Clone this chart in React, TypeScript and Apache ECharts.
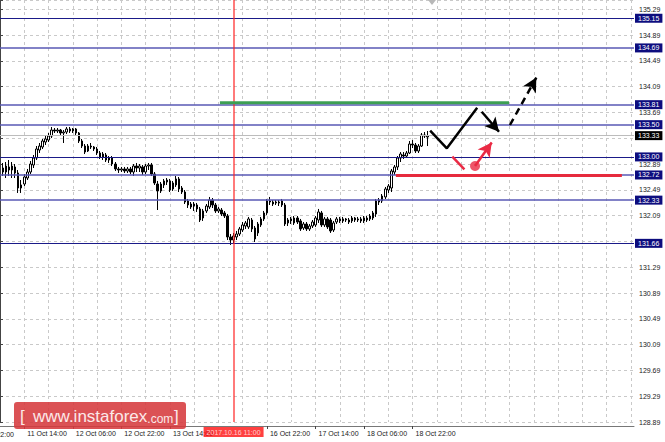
import React, { useEffect, useRef } from 'react';
import * as echarts from 'echarts';

// ---- time axis (hourly bars, weekend skipped) ----
const sessionDays: [string, number, number][] = [
  ['11 Oct', 6, 23], ['12 Oct', 0, 23], ['13 Oct', 0, 23],
  ['16 Oct', 0, 23], ['17 Oct', 0, 23], ['18 Oct', 0, 23], ['19 Oct', 0, 23],
  ['20 Oct', 0, 23], ['23 Oct', 0, 23],
];
const categories: string[] = [];
sessionDays.forEach(([d, a, b]) => {
  for (let h = a; h <= b; h++) categories.push(`${d} ${String(h).padStart(2, '0')}:00`);
});
const firstCandle = '11 Oct 07:00';
const timeTickLabels = ['11 Oct 14:00', '12 Oct 06:00', '12 Oct 22:00', '13 Oct 14:00',
  '16 Oct 22:00', '17 Oct 14:00', '18 Oct 06:00', '18 Oct 22:00'];
const cutTimeLabel = '10 Oct 22:00';
const markedTime = '16 Oct 11:00';
const markedTimeLabel = '2017.10.16 11:00';

// ---- OHLC (H1) ----
const opens = [
  132.828, 132.766, 132.844, 132.797, 132.844, 132.751, 132.518, 132.580, 132.673, 132.766,
  132.875, 132.983, 133.107, 133.154, 133.231, 133.262, 133.324, 133.417, 133.402, 133.417,
  133.371, 133.386, 133.433, 133.402, 133.433, 133.371, 133.247, 133.169, 133.092, 133.169,
  133.154, 133.123, 133.061, 132.999, 133.030, 132.952, 132.983, 132.890, 132.813, 132.797,
  132.813, 132.782, 132.813, 132.766, 132.859, 132.828, 132.844, 132.766, 132.859, 132.875,
  132.735, 132.580, 132.472, 132.565, 132.611, 132.627, 132.503, 132.565, 132.658, 132.518,
  132.456, 132.317, 132.270, 132.239, 132.255, 132.193, 132.053, 132.162, 132.224, 132.332,
  132.255, 132.162, 132.177, 132.131, 132.084, 131.759, 131.712, 131.759, 131.805, 131.867,
  131.929, 131.914, 132.022, 131.898, 131.821, 131.945, 132.038, 132.131, 132.301, 132.301,
  132.286, 132.301, 132.317, 132.255, 131.976, 132.007, 131.976, 132.053, 132.007, 131.898,
  131.960, 131.883, 131.929, 131.945, 132.022, 132.131, 131.945, 132.038, 132.022, 131.867,
  131.991, 132.038, 132.007, 132.038, 132.022, 132.007, 132.053, 132.022, 132.038, 132.007,
  132.053, 132.038, 132.053, 132.115, 132.301, 132.317, 132.379, 132.487, 132.518, 132.766,
  132.844, 132.983, 133.030, 133.014, 133.061, 133.200, 133.185, 133.092, 133.169, 133.324,
  133.309,
];
const closes = [
  132.766, 132.859, 132.797, 132.859, 132.751, 132.518, 132.565, 132.689, 132.766, 132.890,
  132.983, 133.123, 133.169, 133.247, 133.278, 133.324, 133.417, 133.402, 133.417, 133.371,
  133.386, 133.433, 133.402, 133.433, 133.371, 133.247, 133.169, 133.076, 133.169, 133.154,
  133.123, 133.061, 132.999, 133.045, 132.952, 132.983, 132.890, 132.813, 132.797, 132.813,
  132.782, 132.813, 132.766, 132.859, 132.828, 132.859, 132.766, 132.859, 132.875, 132.735,
  132.596, 132.472, 132.580, 132.627, 132.642, 132.487, 132.596, 132.658, 132.503, 132.456,
  132.301, 132.255, 132.224, 132.270, 132.193, 132.022, 132.162, 132.239, 132.332, 132.255,
  132.162, 132.193, 132.115, 132.084, 131.759, 131.712, 131.774, 131.805, 131.883, 131.945,
  131.976, 132.038, 131.883, 131.728, 131.960, 132.038, 132.131, 132.317, 132.317, 132.270,
  132.301, 132.286, 132.255, 131.960, 132.022, 132.038, 132.053, 131.991, 131.883, 131.960,
  131.883, 131.929, 131.991, 132.053, 132.146, 131.945, 132.038, 131.914, 131.852, 131.976,
  132.038, 132.007, 132.038, 132.022, 131.991, 132.053, 132.022, 132.038, 132.007, 132.053,
  132.022, 132.084, 132.131, 132.317, 132.332, 132.394, 132.503, 132.549, 132.782, 132.844,
  132.983, 133.045, 133.014, 133.061, 133.200, 133.185, 133.092, 133.169, 133.340, 133.340,
  133.324,
];
const highs = [
  132.906, 132.921, 132.952, 132.921, 132.890, 132.797, 132.642, 132.735, 132.813, 132.937,
  133.030, 133.169, 133.216, 133.278, 133.324, 133.371, 133.464, 133.448, 133.448, 133.433,
  133.417, 133.464, 133.464, 133.448, 133.448, 133.386, 133.278, 133.200, 133.200, 133.216,
  133.169, 133.154, 133.092, 133.076, 133.061, 133.014, 133.014, 132.921, 132.844, 132.844,
  132.844, 132.844, 132.844, 132.890, 132.906, 132.890, 132.875, 132.890, 132.906, 132.906,
  132.766, 132.627, 132.611, 132.658, 132.673, 132.658, 132.627, 132.704, 132.689, 132.549,
  132.487, 132.348, 132.301, 132.301, 132.286, 132.224, 132.193, 132.270, 132.379, 132.363,
  132.286, 132.224, 132.208, 132.162, 132.115, 131.805, 131.821, 131.852, 131.914, 131.991,
  132.007, 132.069, 132.053, 131.929, 131.991, 132.069, 132.162, 132.348, 132.379, 132.332,
  132.332, 132.332, 132.348, 132.286, 132.053, 132.069, 132.084, 132.084, 132.038, 131.991,
  131.991, 131.960, 132.022, 132.084, 132.193, 132.162, 132.069, 132.069, 132.053, 132.007,
  132.069, 132.069, 132.069, 132.053, 132.053, 132.084, 132.069, 132.069, 132.069, 132.084,
  132.084, 132.115, 132.162, 132.348, 132.363, 132.425, 132.534, 132.580, 132.813, 132.875,
  133.014, 133.076, 133.076, 133.092, 133.247, 133.262, 133.216, 133.200, 133.371, 133.386,
  133.402,
];
const lows = [
  132.704, 132.673, 132.704, 132.673, 132.673, 132.441, 132.441, 132.549, 132.642, 132.735,
  132.828, 132.952, 133.061, 133.123, 133.185, 133.231, 133.293, 133.371, 133.371, 133.340,
  133.216, 133.355, 133.371, 133.371, 133.340, 133.216, 133.138, 133.045, 133.076, 133.123,
  133.092, 133.030, 132.968, 132.952, 132.921, 132.906, 132.859, 132.782, 132.751, 132.766,
  132.751, 132.751, 132.735, 132.704, 132.766, 132.766, 132.720, 132.735, 132.797, 132.704,
  132.565, 132.177, 132.441, 132.518, 132.565, 132.456, 132.472, 132.534, 132.456, 132.425,
  132.270, 132.208, 132.193, 132.162, 132.146, 131.991, 132.007, 132.131, 132.193, 132.208,
  132.131, 132.131, 132.084, 132.053, 131.712, 131.635, 131.666, 131.712, 131.774, 131.836,
  131.883, 131.883, 131.836, 131.681, 131.774, 131.914, 132.007, 132.100, 132.255, 132.239,
  132.255, 132.239, 132.224, 131.929, 131.929, 131.960, 131.945, 131.960, 131.852, 131.867,
  131.852, 131.852, 131.898, 131.914, 131.976, 131.914, 131.914, 131.883, 131.821, 131.836,
  131.960, 131.976, 131.976, 131.991, 131.960, 131.976, 131.991, 131.991, 131.976, 131.976,
  131.991, 132.007, 132.022, 132.069, 132.255, 132.286, 132.348, 132.441, 132.456, 132.720,
  132.797, 132.921, 132.968, 132.983, 133.045, 133.138, 133.061, 133.061, 133.154, 133.293,
  133.169,
];

// ---- price axis ----
const priceTickStart = 128.89;
const priceTickStep = 0.4;
const priceMax = 135.433;
const hiddenPriceTicks = ['133.29', '131.69'];
const levels = [135.15, 134.69, 133.81, 133.5, 133.0, 132.72, 132.33, 131.66];
const softLevels = [134.69, 133.81, 133.5, 132.72, 132.33];
const currentPrice = 133.33;

// ---- forecast drawings (x in bar index units, y in price) ----
const greenLine: [number, number][] = [[72.5, 133.84], [167.8, 133.84]];
const redLine: [number, number][] = [[130.5, 132.71], [205.0, 132.71]];
const blackPath: [number, number][] = [[141.8, 133.406], [147.3, 133.133], [157.3, 133.763]];
const blackArrow: [number, number][] = [[158.8, 133.701], [164.5, 133.39]];
const dashedArrow: [number, number][] = [[168.1, 133.495], [176.8, 134.23]];
const redTick: [number, number][] = [[149.1, 133.003], [153.1, 132.808]];
const redDot: [number, number] = [156.6, 132.859];
const redArrow: [number, number][] = [[156.6, 132.859], [162.1, 133.225]];

const FONT = 'Liberation Sans';

export default function App() {
  const ref = useRef<HTMLDivElement>(null);
  useEffect(() => {
    const chart = echarts.init(ref.current!, null, { renderer: 'svg' });
    const start = categories.indexOf(firstCandle);
    const candleData = categories.slice(0, start + opens.length).map((c, j) =>
      j < start ? '-' : [opens[j - start], closes[j - start], lows[j - start], highs[j - start]]);
    const showTime = (_: number, v: string) => timeTickLabels.includes(v);

    const levelLabel = (bg: string, v: number) => ({
      show: true, position: 'end', distance: 1, formatter: v.toFixed(2),
      backgroundColor: bg, color: '#fff', fontSize: 7, fontFamily: FONT,
      padding: [1, 3, 1, 3], lineHeight: 7,
    });

    const arrowSeries = (pts: [number, number][], color: string, type: any) => ({
      type: 'line', xAxisIndex: 1, yAxisIndex: 0, data: [], silent: true, z: 6,
      markLine: {
        silent: true, animation: false, symbol: ['none', 'arrow'], symbolSize: [11, 14],
        lineStyle: { color, width: 2.5, type },
        label: { show: false },
        data: [[{ coord: pts[0] }, { coord: pts[1] }]],
      },
    });

    chart.setOption({
      animation: false,
      backgroundColor: '#ffffff',
      grid: { left: 0, right: 31, top: 0, bottom: 20 },
      xAxis: [
        {
          type: 'category', data: categories, boundaryGap: false, offset: 4,
          axisLine: { show: true, lineStyle: { color: '#777', width: 1 } },
          axisTick: { show: true, length: 3, interval: showTime, lineStyle: { color: '#444' } },
          axisLabel: {
            show: true, interval: showTime, align: 'left', margin: 4, padding: [0, 0, 0, 3],
            fontSize: 7, color: '#222', fontFamily: FONT,
          },
          splitLine: { show: true, interval: (j: number) => j % 8 === 0, lineStyle: { color: '#c9c9c9', type: [3, 3], width: 1 } },
        },
        { type: 'value', min: 0, max: categories.length - 1, show: false },
      ],
      yAxis: [
        {
          type: 'value', position: 'right', min: priceTickStart, max: priceMax, interval: priceTickStep,
          axisLine: { show: true, lineStyle: { color: '#444', width: 1 } },
          axisTick: { show: true, length: 3, lineStyle: { color: '#444' } },
          axisLabel: {
            fontSize: 7, color: '#222', margin: 5, fontFamily: FONT,
            formatter: (v: number) => {
              const k = (v - priceTickStart) / priceTickStep;
              const s = v.toFixed(2);
              if (Math.abs(k - Math.round(k)) > 0.01) return '';
              return hiddenPriceTicks.includes(s) ? '' : s;
            },
          },
          splitLine: { show: true, lineStyle: { color: '#c9c9c9', type: [3, 3], width: 1 } },
        },
      ],
      series: [
        {
          type: 'candlestick', xAxisIndex: 0, yAxisIndex: 0, data: candleData, barWidth: 2,
          itemStyle: { color: '#ffffff', color0: '#000000', borderColor: '#000000', borderColor0: '#000000', borderWidth: 1 },
          markLine: {
            silent: true, animation: false, symbol: ['none', 'none'],
            data: [
              ...levels.map(v => ({
                yAxis: v,
                lineStyle: softLevels.includes(v)
                  ? { color: '#5858b4', width: 1.6, type: 'solid' }
                  : { color: '#1a1a88', width: 1, type: 'solid' },
                label: levelLabel('#0d0d7e', v),
              })),
              { yAxis: currentPrice, lineStyle: { color: '#bcbcbc', width: 1, type: 'solid' }, label: levelLabel('#000000', currentPrice) },
              {
                xAxis: markedTime,
                lineStyle: { color: '#ff2020', width: 1.6, type: 'solid', opacity: 0.75 },
                label: {
                  show: true, position: 'start', distance: 5, formatter: markedTimeLabel,
                  backgroundColor: '#ff0000', color: '#fff', fontSize: 7, fontFamily: FONT, padding: [2, 3, 1, 3],
                },
              },
            ],
          },
        },
        { type: 'line', xAxisIndex: 1, yAxisIndex: 0, z: 6, data: greenLine, symbol: 'none', silent: true, lineStyle: { color: '#3d9f53', width: 3 } },
        { type: 'line', xAxisIndex: 1, yAxisIndex: 0, z: 6, data: redLine, symbol: 'none', silent: true, lineStyle: { color: '#e62a3d', width: 3 } },
        { type: 'line', xAxisIndex: 1, yAxisIndex: 0, z: 6, data: blackPath, symbol: 'none', silent: true, lineStyle: { color: '#000', width: 2.5 } },
        arrowSeries(blackArrow, '#000000', 'solid'),
        arrowSeries(dashedArrow, '#000000', [7, 5]),
        { type: 'line', xAxisIndex: 1, yAxisIndex: 0, z: 6, data: redTick, symbol: 'none', silent: true, lineStyle: { color: '#ea2a44', width: 2.5 } },
        arrowSeries(redArrow, '#ea2a44', 'solid'),
        { type: 'scatter', xAxisIndex: 1, yAxisIndex: 0, z: 6, data: [redDot], symbolSize: 10, silent: true, itemStyle: { color: '#ea2a44' } },
      ],
      graphic: [
        { type: 'text', x: 14, y: 434, z: 10, style: { text: cutTimeLabel, align: 'right', verticalAlign: 'middle', fill: '#222', font: `7px "${FONT}"` } },
        { type: 'polygon', shape: { points: [[428, 0], [436, 0], [432, 5]] }, style: { fill: '#b8b8b8' }, z: 50 },
        { type: 'rect', shape: { x: 14, y: 402, width: 172, height: 27, r: 3 }, style: { fill: 'rgba(214,58,62,0.88)' }, z: 100 },
        { type: 'text', x: 20, y: 416, z: 101, style: { text: '[', fill: '#fbe9e9', font: `17px "${FONT}"`, verticalAlign: 'middle' } },
        {
          type: 'text', x: 33, y: 416, z: 101,
          style: {
            text: '{a|www.instaforex}{c|.com}', verticalAlign: 'middle', fill: '#fbe9e9',
            rich: {
              a: { fontSize: 17, fontFamily: FONT, fill: '#fbe9e9' },
              c: { fontSize: 12, fontFamily: FONT, fill: '#fbe9e9', padding: [5, 0, 0, 0] },
            },
          },
        },
        { type: 'text', x: 174, y: 416, z: 101, style: { text: ']', fill: '#fbe9e9', font: `17px "${FONT}"`, verticalAlign: 'middle' } },
      ],
    });
    return () => chart.dispose();
  }, []);
  return <div ref={ref} style={{ position: 'fixed', left: 0, top: 0, width: 665, height: 442, background: '#fff' }} />;
}
